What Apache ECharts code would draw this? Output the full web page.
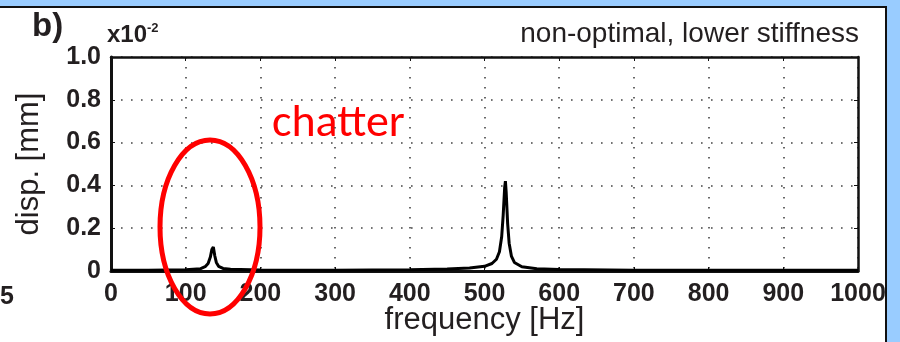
<!DOCTYPE html>
<html><head><meta charset="utf-8">
<script src="https://cdn.jsdelivr.net/npm/echarts@6/dist/echarts.min.js"></script>
<style>
html,body{margin:0;padding:0;width:900px;height:342px;overflow:hidden;background:#99ccff;}
#panel{position:absolute;left:0;top:6px;width:885px;height:336px;background:#fff;border-top:2px solid #111;border-right:2px solid #111;}
#chart{position:absolute;left:0;top:0;width:900px;height:342px;}
</style></head>
<body><div id="panel"></div><div id="chart"></div>
<script>
// frequency [Hz]
const freq = [0, 50, 100, 120, 126, 130, 133, 135, 137, 139, 141, 144, 150, 160, 200, 300, 400, 450, 480, 500, 510, 516, 520, 523, 525, 527, 528, 529, 531, 533, 536, 540, 550, 570, 600, 700, 800, 900, 1000];
// displacement [mm] x10^-2
const disp = [0.004, 0.004, 0.006, 0.011, 0.02, 0.035, 0.065, 0.10, 0.112, 0.07, 0.04, 0.022, 0.012, 0.008, 0.005, 0.004, 0.006, 0.009, 0.014, 0.022, 0.035, 0.055, 0.09, 0.16, 0.26, 0.39, 0.42, 0.37, 0.22, 0.13, 0.07, 0.04, 0.02, 0.011, 0.007, 0.004, 0.003, 0.003, 0.003];
const xTicks = [0, 100, 200, 300, 400, 500, 600, 700, 800, 900, 1000];
const yTicks = [0, 0.2, 0.4, 0.6, 0.8, 1.0];

const chart = echarts.init(document.getElementById('chart'), null, {renderer: 'canvas'});
const tickFont = {fontFamily: 'Arial, "Liberation Sans", sans-serif', fontWeight: 'bold', fontSize: 25, color: '#231f20'};
const dotted = {show: true, lineStyle: {color: '#444', width: 1.6, type: [1.6, 8.4]}};
chart.setOption({
  animation: false,
  backgroundColor: 'transparent',
  grid: {left: 111, right: 42, top: 57, bottom: 71, containLabel: false, outerBoundsMode: 'none'},
  xAxis: [{
    type: 'value', min: 0, max: 1000, interval: 100,
    axisLine: {show: true, onZero: false, lineStyle: {color: '#111', width: 3}},
    axisTick: {show: true, inside: true, length: 4, lineStyle: {color: '#111', width: 1}},
    axisLabel: Object.assign({margin: 11, formatter: v => xTicks.includes(v) ? String(v) : ''}, tickFont),
    splitLine: dotted,
    name: 'frequency [Hz]', nameLocation: 'middle', nameGap: 34, nameMoveOverlap: false,
    nameTextStyle: {fontFamily: 'Arial, "Liberation Sans", sans-serif', fontSize: 31, color: '#231f20'}
  }, {
    type: 'value', min: 0, max: 1000, interval: 100, position: 'top',
    axisLine: {show: true, onZero: false, lineStyle: {color: '#111', width: 2.5}},
    axisTick: {show: true, inside: true, length: 4, lineStyle: {color: '#111', width: 1}},
    axisLabel: {show: false}, splitLine: {show: false}
  }],
  yAxis: [{
    type: 'value', min: 0, max: 1.0, interval: 0.2,
    axisLine: {show: true, onZero: false, lineStyle: {color: '#111', width: 3}},
    axisTick: {show: true, inside: true, length: 4, lineStyle: {color: '#111', width: 1}},
    axisLabel: Object.assign({margin: 10, formatter: v => yTicks.some(t => Math.abs(t - v) < 1e-9) ? (v === 0 ? '0' : v.toFixed(1)) : ''}, tickFont),
    splitLine: dotted,
    name: 'disp. [mm]', nameLocation: 'middle', nameGap: 66, nameRotate: 90, nameMoveOverlap: false,
    nameTextStyle: {fontFamily: 'Arial, "Liberation Sans", sans-serif', fontSize: 31, color: '#231f20'}
  }, {
    type: 'value', min: 0, max: 1.0, interval: 0.2, position: 'right',
    axisLine: {show: true, onZero: false, lineStyle: {color: '#111', width: 2.5}},
    axisTick: {show: true, inside: true, length: 4, lineStyle: {color: '#111', width: 1}},
    axisLabel: {show: false}, splitLine: {show: false}
  }],
  series: [{
    type: 'line', data: freq.map((f, i) => [f, disp[i]]), showSymbol: false, smooth: false,
    lineStyle: {color: '#000', width: 3}, z: 5
  }],
  graphic: [
    {type: 'text', left: 32, top: 10, style: {text: 'b)', font: 'bold 33px Arial, "Liberation Sans", sans-serif', fill: '#231f20'}},
    {type: 'text', left: 107, top: 22, style: {
      text: '{a|x10}{b|-2}',
      rich: {a: {font: 'bold 24px Arial, "Liberation Sans", sans-serif', fill: '#231f20', verticalAlign: 'bottom'},
             b: {font: 'bold 13px Arial, sans-serif', fill: '#231f20', verticalAlign: 'top', padding: [0,0,12,0]}}
    }},
    {type: 'text', right: 41, top: 20, style: {text: 'non-optimal, lower stiffness', font: '28px Arial, "Liberation Sans", sans-serif', fill: '#231f20', align: 'right'}},
    {type: 'text', left: 0, top: 285, style: {text: '5', font: 'bold 25px Arial, "Liberation Sans", sans-serif', fill: '#231f20'}},
    {type: 'text', left: 272, top: 101, style: {text: 'chatter', font: '46px Carlito, Calibri, "Open Sans", sans-serif', fill: '#ff0000'}},
    {type: 'ellipse', shape: {cx: 210, cy: 227, rx: 50, ry: 87}, style: {fill: 'none', stroke: '#ff0000', lineWidth: 5}, z: 10}
  ]
});
</script></body></html>
